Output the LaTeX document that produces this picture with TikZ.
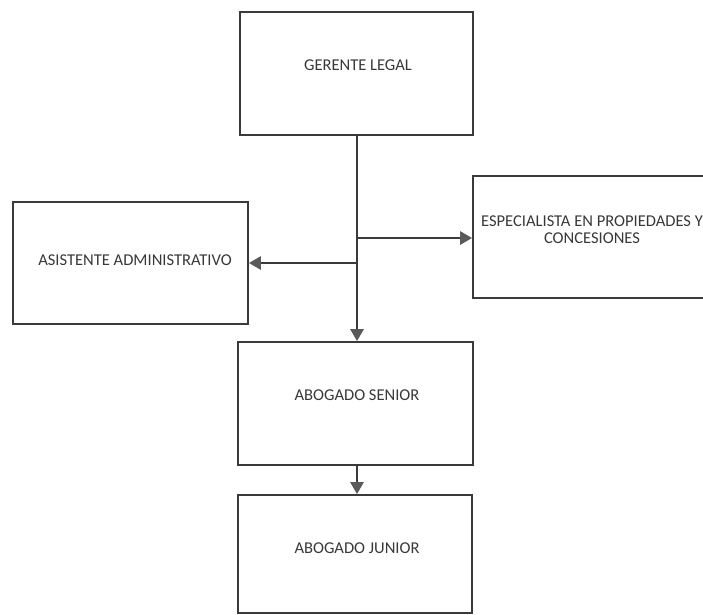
\documentclass[tikz,border=0pt]{standalone}
\usepackage{fontspec}
\setmainfont{Carlito}
\usetikzlibrary{arrows.meta}
\definecolor{ink}{HTML}{3A3A3A}
\definecolor{tip}{HTML}{5A5A5A}
\begin{document}
\begin{tikzpicture}[x=0.75pt,y=-0.75pt,
  box/.style={draw=ink,line width=1.4pt,rectangle,inner sep=0pt},
  lbl/.style={font=\fontsize{12.4}{13}\selectfont,text=black!78,align=center,inner sep=0pt},
  link/.style={draw=ink,line width=1.4pt,-{Triangle[length=9pt,width=10pt,fill=tip,color=tip]}}]
\useasboundingbox (0,0) rectangle (703,614);
% boxes
\node[box,minimum width=174.75pt,minimum height=92.25pt] (ger) at (356.5,73.5) {};
\node[box,minimum width=176.25pt,minimum height=91.5pt] (asi) at (130.5,263) {};
\node[box,minimum width=179.25pt,minimum height=91.5pt] (esp) at (592.5,237) {};
\node[box,minimum width=176.25pt,minimum height=92.25pt] (sen) at (355.5,403.5) {};
\node[box,minimum width=175.5pt,minimum height=88.5pt] (jun) at (355,554) {};
% labels
\node[lbl] (gert) at (358,65) {GERENTE LEGAL};
\node[lbl] (asit) at (135,260) {ASISTENTE ADMINISTRATIVO};
\node[lbl] (espt) at (592,230) {ESPECIALISTA EN PROPIEDADES Y\\CONCESIONES};
\node[lbl] (sent) at (357,395) {ABOGADO SENIOR};
\node[lbl] (junt) at (357,548) {ABOGADO JUNIOR};
% junctions on the trunk
\coordinate (jr) at (357,238);
\coordinate (jl) at (357,263);
% connectors
\draw[link] (ger.south -| jl) -- (sen.north -| jl);
\draw[link] (jl) -- (asi.east |- jl);
\draw[link] (jr) -- (esp.west |- jr);
\draw[link] (sen.south -| jl) -- (jun.north -| jl);
\end{tikzpicture}
\end{document}
